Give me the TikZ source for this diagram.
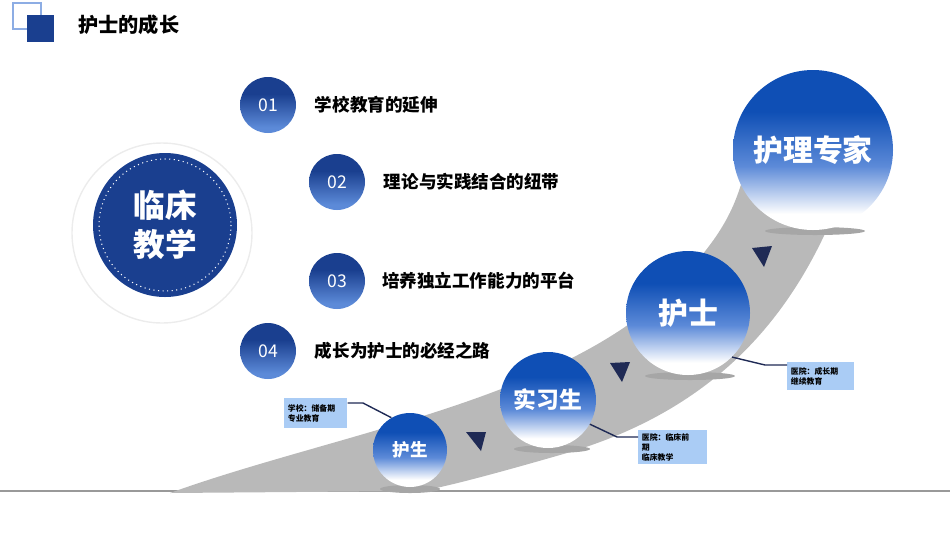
\documentclass[tikz,border=0pt]{standalone}
\usepackage{fontspec}
\setmainfont{Noto Sans CJK SC}
\usetikzlibrary{positioning}
\definecolor{navy}{HTML}{1A3F8F}
\definecolor{blA}{HTML}{0F4FB5}
\definecolor{blB}{HTML}{5C8AD8}
\definecolor{boxbl}{HTML}{AACCF5}
\definecolor{tri}{HTML}{1F2A55}
\pgfdeclareverticalshading{ballshade}{100bp}{color(0bp)=(white); color(30bp)=(white); color(45bp)=(blB); color(62bp)=(blA); color(100bp)=(blA)}
\pgfdeclareverticalshading{numshade}{100bp}{color(0bp)=(blB); color(30bp)=(blB); color(60bp)=(navy); color(100bp)=(navy)}
\tikzset{
  ball/.style={circle, shading=ballshade, text=white, font=\bfseries, inner sep=0pt},
  num/.style={circle, shading=numshade, text=white, minimum size=56*0.02cm, inner sep=0pt, font=\fontsize{10}{10}\selectfont},
  lab/.style={anchor=west, font=\bfseries\fontsize{10}{12}\selectfont},
  note/.style={fill=boxbl, anchor=north west, align=left, inner sep=2pt, font=\bfseries\fontsize{4.5}{5.5}\selectfont},
  lead/.style={line width=.8pt, color=tri},
  shadow/.style={fill=gray!70}
}
\begin{document}
\begin{tikzpicture}[x=0.02cm, y=-0.02cm]
\useasboundingbox (0,0) rectangle (950,535);

% header
\draw[blB!70, line width=1.2pt] (13,3) rectangle (41,29);
\fill[navy] (27,15) rectangle (54,42);
\node[anchor=west, font=\bfseries\fontsize{11.5}{12}\selectfont] (title) at (72,25) {护士的成长};

% left circle
\draw[gray!15, line width=.8pt] (162,233) circle (90);
\fill[navy] (165,225) circle (72);
\draw[white, dotted, line width=.6pt] (165,225) circle (66);
\node[text=white, align=center, font=\bfseries\fontsize{18}{22}\selectfont] (clin) at (165,225) {临床\\教学};

% numbered items
\node[num] (n1) at (268,105) {01};
\node[num] (n2) at (337,182) {02};
\node[num] (n3) at (337,281) {03};
\node[num] (n4) at (268,351) {04};
\node[lab, right=7pt of n1] (t1) {学校教育的延伸};
\node[lab, right=7pt of n2] (t2) {理论与实践结合的纽带};
\node[lab, right=6pt of n3] (t3) {培养独立工作能力的平台};
\node[lab, right=7pt of n4] (t4) {成长为护士的必经之路};

% bottom line
\draw[gray!80, line width=.8pt] (0,491) -- (950,491);

% swoosh
\fill[gray!55] (170,493) .. controls (330,435) and (560,400) .. (670,290)
  .. controls (720,240) and (735,210) .. (745,170) -- (845,185)
  .. controls (800,310) and (720,410) .. (560,455)
  .. controls (480,478) and (440,488) .. (420,491) -- cycle;

% triangles
\fill[tri] (466,432) -- (486,432) -- (481,451) -- cycle;
\fill[tri] (610,363) -- (630,362) -- (622,382) -- cycle;
\fill[tri] (752,248) -- (772,246) -- (764,267) -- cycle;

% shadows
\fill[shadow] (410,489) ellipse (30 and 4);
\fill[shadow] (552,449) ellipse (38 and 4);
\fill[shadow] (690,376) ellipse (45 and 4);
\fill[shadow] (815,231) ellipse (50 and 4);

% stages
\node[ball, minimum size=74*0.02cm, font=\bfseries\fontsize{10}{10}\selectfont] (s1) at (410,450) {护生};
\node[ball, minimum size=96*0.02cm, font=\bfseries\fontsize{13}{13}\selectfont] (s2) at (548,400) {实习生};
\node[ball, minimum size=124*0.02cm, font=\bfseries\fontsize{17}{17}\selectfont] (s3) at (688,313) {护士};
\node[ball, minimum size=160*0.02cm, font=\bfseries\fontsize{17}{17}\selectfont] (s4) at (813,150) {护理专家};

% notes
\node[note, text width=56*0.02cm, minimum height=30*0.02cm] (b1) at (284,398) {学校：储备期\\专业教育};
\node[note, text width=62*0.02cm, minimum height=33*0.02cm] (b2) at (638,430) {医院：临床前\\期\\临床教学};
\node[note, text width=60*0.02cm, minimum height=28*0.02cm] (b3) at (787,362) {医院：成长期\\继续教育};
\coordinate (k1) at (363,403);
\coordinate (k2) at (617,437);
\coordinate (k3) at (765,365);
\draw[lead] (b1.north east |- k1) -- (k1) -- (s1.120);
\draw[lead] (s2.-30) -- (k2) -- (b2.west |- k2);
\draw[lead] (s3.-45) -- (k3) -- (b3.west |- k3);
\end{tikzpicture}
\end{document}
